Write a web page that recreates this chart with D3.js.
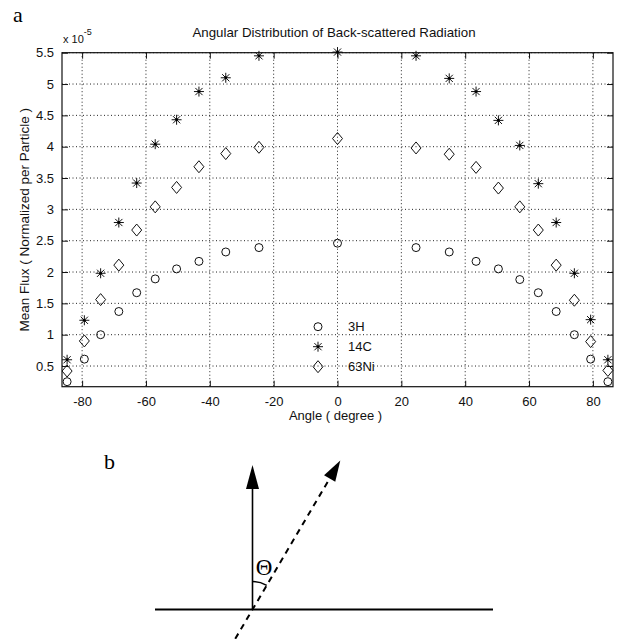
<!DOCTYPE html>
<html>
<head>
<meta charset="utf-8">
<script src="https://cdn.jsdelivr.net/npm/d3@7"></script>
<style>
  body { margin: 0; background: #fff; }
  svg { display: block; }
  .tick text { font-family: "Liberation Sans", Arial, sans-serif; font-size: 13px; fill: #111; }
  .lbl { font-family: "Liberation Sans", Arial, sans-serif; font-size: 13px; fill: #111; }
  .serif { font-family: "Liberation Serif", "Times New Roman", serif; fill: #000; }
</style>
</head>
<body>
<div id="chart"></div>
<script>
'use strict';

// angles (degree)
var angles = [-84.7, -79.3, -74.2, -68.5, -62.9, -57.1, -50.4, -43.4, -35, -24.6, 0,
  24.6, 35, 43.4, 50.4, 57.1, 62.9, 68.5, 74.2, 79.3, 84.7];
// mean flux, x 1e-5
var flux3H = [0.25, 0.61, 1.0, 1.37, 1.67, 1.89, 2.05, 2.17, 2.32, 2.39, 2.46,
  2.39, 2.32, 2.17, 2.05, 1.88, 1.67, 1.37, 1.0, 0.61, 0.25];
var flux14C = [0.6, 1.23, 1.98, 2.79, 3.42, 4.04, 4.43, 4.88, 5.1, 5.45, 5.51,
  5.45, 5.09, 4.88, 4.42, 4.02, 3.41, 2.79, 1.98, 1.24, 0.6];
var flux63Ni = [0.42, 0.9, 1.56, 2.11, 2.67, 3.04, 3.35, 3.68, 3.89, 3.99, 4.13,
  3.98, 3.88, 3.67, 3.34, 3.04, 2.67, 2.11, 1.55, 0.89, 0.43];
var seriesNames = ['3H', '14C', '63Ni'];
var xTicks = [-80, -60, -40, -20, 0, 20, 40, 60, 80];
var yTicks = [0.5, 1, 1.5, 2, 2.5, 3, 3.5, 4, 4.5, 5, 5.5];

var W = 618, H = 639;
var box = {left: 62, right: 613, top: 52.7, bottom: 386.7};

var svg = d3.select('#chart').append('svg')
  .attr('width', W)
  .attr('height', H);

var x = d3.scaleLinear().domain([-86.3, 86.3]).range([box.left, box.right]);
var y = d3.scaleLinear().domain([0.17, 5.5]).range([box.bottom, box.top]);

// markers, MATLAB style
var markers = {
  '3H': 'M4,0A4,4 0 1,1 -4,0A4,4 0 1,1 4,0Z',
  '14C': 'M-5,0H5M0,-5V5M-3.6,-3.6L3.6,3.6M-3.6,3.6L3.6,-3.6',
  '63Ni': 'M0,-6L5,0L0,6L-5,0Z'
};

function plain(d) { return String(d); }

// grid
var grid = svg.append('g').attr('class', 'grid');
grid.selectAll('.gx')
  .data(xTicks)
  .enter().append('line')
  .attr('x1', function(d) { return x(d); })
  .attr('x2', function(d) { return x(d); })
  .attr('y1', box.top)
  .attr('y2', box.bottom)
  .attr('stroke', '#222')
  .attr('stroke-dasharray', '1,2.5');
grid.selectAll('.gy')
  .data(yTicks)
  .enter().append('line')
  .attr('x1', box.left)
  .attr('x2', box.right)
  .attr('y1', function(d) { return y(d); })
  .attr('y2', function(d) { return y(d); })
  .attr('stroke', '#222')
  .attr('stroke-dasharray', '1,2.5');

// axes, ticks pointing inward
var axBottom = svg.append('g')
  .attr('transform', 'translate(0,' + box.bottom + ')')
  .call(d3.axisBottom(x).tickValues(xTicks).tickSize(-6).tickPadding(10).tickSizeOuter(0)
    .tickFormat(plain));
var axTop = svg.append('g')
  .attr('transform', 'translate(0,' + box.top + ')')
  .call(d3.axisTop(x).tickValues(xTicks).tickSize(-6).tickFormat('').tickSizeOuter(0));
var axLeft = svg.append('g')
  .attr('transform', 'translate(' + box.left + ',0)')
  .call(d3.axisLeft(y).tickValues(yTicks).tickSize(-6).tickPadding(8).tickSizeOuter(0)
    .tickFormat(plain));
var axRight = svg.append('g')
  .attr('transform', 'translate(' + box.right + ',0)')
  .call(d3.axisRight(y).tickValues(yTicks).tickSize(-6).tickFormat('').tickSizeOuter(0));
[axBottom, axTop, axLeft, axRight].forEach(function(g) {
  g.select('.domain').remove();
  g.selectAll('.tick line').attr('stroke', '#111');
});

svg.append('rect')
  .attr('x', box.left)
  .attr('y', box.top)
  .attr('width', box.right - box.left)
  .attr('height', box.bottom - box.top)
  .attr('fill', 'none')
  .attr('stroke', '#111')
  .attr('stroke-width', 1.2);

// points
var seriesData = [flux3H, flux14C, flux63Ni];
seriesData.forEach(function(vals, i) {
  var name = seriesNames[i];
  svg.append('g').selectAll('path')
    .data(vals)
    .enter().append('path')
    .attr('transform', function(d, j) {
      return 'translate(' + x(angles[j]) + ',' + y(d) + ')';
    })
    .attr('d', markers[name])
    .attr('fill', 'none')
    .attr('stroke', '#111')
    .attr('stroke-width', 1);
  if (name === '14C') {
    svg.append('g').selectAll('circle')
      .data(vals)
      .enter().append('circle')
      .attr('cx', function(d, j) { return x(angles[j]); })
      .attr('cy', function(d) { return y(d); })
      .attr('r', 1.4)
      .attr('fill', '#000');
  }
});

// legend (no box)
var legend = svg.append('g').attr('transform', 'translate(318,326.7)');
seriesNames.forEach(function(name, i) {
  var row = legend.append('g').attr('transform', 'translate(0,' + (i * 20) + ')');
  row.append('path')
    .attr('d', markers[name])
    .attr('fill', 'none')
    .attr('stroke', '#111');
  if (name === '14C') {
    row.append('circle').attr('r', 1.4).attr('fill', '#000');
  }
  row.append('text')
    .attr('class', 'lbl')
    .attr('x', 30)
    .attr('y', 4.5)
    .text(name);
});

// titles
svg.append('text')
  .attr('class', 'lbl')
  .attr('x', 334)
  .attr('y', 37)
  .attr('text-anchor', 'middle')
  .style('font-size', '13.3px')
  .text('Angular Distribution of Back-scattered Radiation');

svg.append('text')
  .attr('class', 'lbl')
  .attr('x', 335.5)
  .attr('y', 420)
  .attr('text-anchor', 'middle')
  .text('Angle ( degree )');

svg.append('text')
  .attr('class', 'lbl')
  .attr('transform', 'translate(29,' + ((box.top + box.bottom) / 2) + ') rotate(-90)')
  .attr('text-anchor', 'middle')
  .style('font-size', '13.5px')
  .text('Mean Flux ( Normalized per Particle )');

var expo = svg.append('text')
  .attr('class', 'lbl')
  .attr('x', 63)
  .attr('y', 43)
  .style('font-size', '11px');
expo.append('tspan').text('x 10');
expo.append('tspan').attr('dy', -8).style('font-size', '9px').text('-5');

svg.append('text').attr('class', 'serif')
  .attr('x', 13).attr('y', 22)
  .style('font-size', '22px')
  .text('a');

// ---- sketch b ----
svg.append('text').attr('class', 'serif')
  .attr('x', 104).attr('y', 469)
  .style('font-size', '22px')
  .text('b');

var origin = [252.5, 609.5];
var theta = 30.5 * Math.PI / 180;

svg.append('line')
  .attr('x1', 155).attr('x2', 493)
  .attr('y1', origin[1]).attr('y2', origin[1])
  .attr('stroke', '#000')
  .attr('stroke-width', 2.2);

svg.append('line')
  .attr('x1', origin[0]).attr('x2', origin[0])
  .attr('y1', origin[1]).attr('y2', 486)
  .attr('stroke', '#000')
  .attr('stroke-width', 1.6);
svg.append('path')
  .attr('d', 'M' + origin[0] + ',465L' + (origin[0] + 6.5) + ',489L' + (origin[0] - 6.5) + ',489Z')
  .attr('fill', '#000');

function along(dist, off) {
  var ux = Math.sin(theta), uy = -Math.cos(theta);
  return [origin[0] + ux * dist - uy * (off || 0), origin[1] + uy * dist + ux * (off || 0)];
}
var tail = along(-34), neck = along(150), tip = along(173);
svg.append('line')
  .attr('x1', tail[0]).attr('y1', tail[1])
  .attr('x2', neck[0]).attr('y2', neck[1])
  .attr('stroke', '#000')
  .attr('stroke-width', 2)
  .attr('stroke-dasharray', '6,5');
var b1 = along(152, 6.5), b2 = along(152, -6.5);
svg.append('path')
  .attr('d', 'M' + tip + 'L' + b1 + 'L' + b2 + 'Z')
  .attr('fill', '#000');

var arc = d3.arc()
  .innerRadius(28)
  .outerRadius(28)
  .startAngle(0)
  .endAngle(theta);
svg.append('path')
  .attr('transform', 'translate(' + origin + ')')
  .attr('d', arc())
  .attr('fill', 'none')
  .attr('stroke', '#000')
  .attr('stroke-width', 1.5);

svg.append('text').attr('class', 'serif')
  .attr('x', 264).attr('y', 575)
  .attr('text-anchor', 'middle')
  .style('font-size', '23px')
  .text('Θ');
</script>
</body>
</html>
